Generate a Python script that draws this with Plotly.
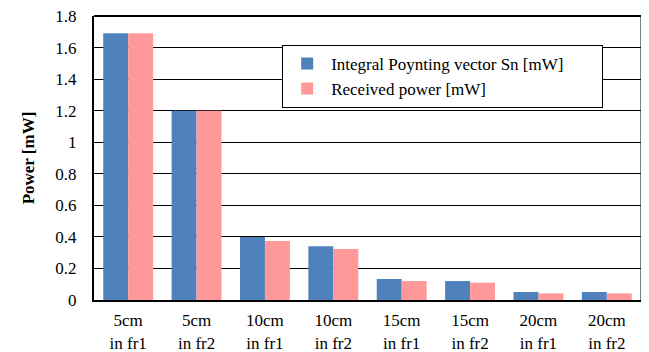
import plotly.graph_objects as go

categories = ["5cm<br>in fr1", "5cm<br>in fr2", "10cm<br>in fr1", "10cm<br>in fr2",
              "15cm<br>in fr1", "15cm<br>in fr2", "20cm<br>in fr1", "20cm<br>in fr2"]
poynting = [1.69, 1.20, 0.40, 0.34, 0.133, 0.12, 0.051, 0.051]
received = [1.69, 1.20, 0.374, 0.323, 0.12, 0.11, 0.042, 0.042]
y_ticks = [0, 0.2, 0.4, 0.6, 0.8, 1, 1.2, 1.4, 1.6, 1.8]
y_ticklabels = ["0", "0.2", "0.4", "0.6", "0.8", "1", "1.2", "1.4", "1.6", "1.8"]

FONT = "Liberation Serif"
FS = 17

fig = go.Figure()
fig.add_trace(go.Bar(x=categories, y=poynting, name="Integral Poynting vector Sn [mW]",
                     marker=dict(color="#4F81BD", line=dict(width=0))))
fig.add_trace(go.Bar(x=categories, y=received, name="Received power [mW]",
                     marker=dict(color="#FF9999", line=dict(width=0))))

fig.update_layout(
    width=641, height=344,
    margin=dict(l=86, r=8, t=8, b=52, autoexpand=False),
    paper_bgcolor="white", plot_bgcolor="white",
    barmode="group", bargap=0.27, bargroupgap=0,
    font=dict(family=FONT, size=FS, color="black"),
    showlegend=True,
    legend=dict(x=0.344, y=0.898, xanchor="left", yanchor="top",
                orientation="h", entrywidth=266, entrywidthmode="pixels",
                bgcolor="white", bordercolor="black", borderwidth=1,
                font=dict(family=FONT, size=FS, color="black"),
                tracegroupgap=0, itemwidth=38),
    xaxis=dict(showline=True, linecolor="black", linewidth=2, mirror=False,
               automargin=False,
               tickfont=dict(family=FONT, size=FS), ticks="", ticklabelstandoff=4),
    yaxis=dict(range=[0, 1.8], tickvals=y_ticks, ticktext=y_ticklabels,
               showline=True, linecolor="black", linewidth=2,
               showgrid=True, gridcolor="black", gridwidth=1,
               zeroline=False, ticks="", ticklabelstandoff=12, automargin=False,
               ticklabeloverflow="allow",
               tickfont=dict(family=FONT, size=FS),
               title=dict(text="<b>Power [mW]</b>", font=dict(family=FONT, size=FS), standoff=16)),
)
fig.add_shape(type="line", xref="paper", yref="paper", x0=1, x1=1, y0=0, y1=1,
              line=dict(color="black", width=1))
fig.add_shape(type="line", xref="paper", yref="paper", x0=0, x1=1, y0=1, y1=1,
              line=dict(color="black", width=2))

fig.write_html("out.html")
